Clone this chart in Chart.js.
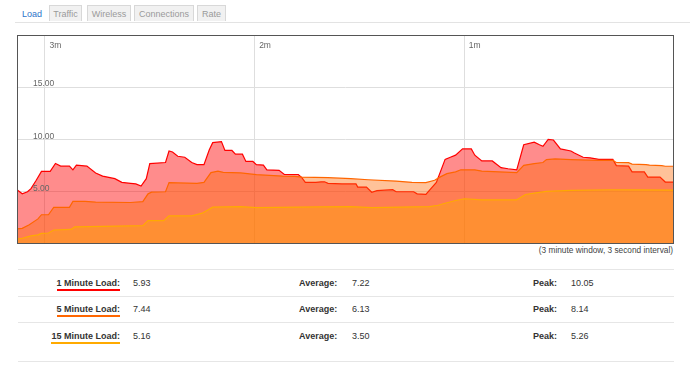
<!DOCTYPE html>
<html>
<head>
<meta charset="utf-8">
<script src="https://cdn.jsdelivr.net/npm/chart.js@4.4.0/dist/chart.umd.min.js"></script>
<style>
  body { margin: 0; background: #fff; font-family: "Liberation Sans", Arial, sans-serif; color: #333; }
  #page { position: relative; width: 690px; height: 370px; overflow: hidden; }
  .tab { position: absolute; top: 5px; height: 16px; line-height: 16px; font-size: 9px; text-align: center;
         background: #f1f1f1; border: 1px solid #d8d8d8; border-bottom: none; color: #9a9a9a; box-sizing: border-box; }
  .tab.active { background: #fff; border-color: #fff; color: #2d74c9; }
  #tabline { position: absolute; left: 15px; right: 0; top: 22px; height: 1px; background: #e3e3e3; }
  #chartbox { position: absolute; left: 17px; top: 35px; width: 657px; height: 209px; }
  #caption { position: absolute; right: 17px; top: 245px; font-size: 8.3px; color: #444; }
  .rule { position: absolute; left: 18px; width: 656px; height: 1px; background: #e6e6e6; }
  .cell { position: absolute; font-size: 9px; line-height: 11px; color: #333; white-space: nowrap; }
  .lbl { font-weight: bold; text-align: right; }
  .lbl span { border-bottom: 2px solid; padding-bottom: 1px; }
</style>
</head>
<body>
<div id="page">
  <div class="tab active" style="left:17px;width:30px">Load</div>
  <div class="tab" style="left:49px;width:33px">Traffic</div>
  <div class="tab" style="left:87px;width:44px">Wireless</div>
  <div class="tab" style="left:134px;width:60px">Connections</div>
  <div class="tab" style="left:197px;width:29px">Rate</div>
  <div id="tabline"></div>
  <div id="chartbox"><canvas id="loadChart" width="657" height="209"></canvas></div>
  <div id="caption">(3 minute window, 3 second interval)</div>
</div>
<script>
// seconds before now, and load values
const t1 = [-188,-186.5,-185,-184,-182.5,-181,-178.5,-177,-175.5,-173,-172,-171,-168,-165.5,-163.5,-160,-158,-155.5,-154,-152.5,
  -151,-150,-145.5,-144.5,-143.5,-142,-140,-138,-136.5,-134.5,-133,-132,-129.5,-128.5,-126.5,-125.5,-123.5,-122.5,-120.5,-119.5,
  -117.5,-116.5,-113,-111.5,-107.5,-106.5,-105.5,-102.5,-101,-100,-99,-95,-91,-90.5,-88,-86.5,-85,-80.5,-79.5,-74.5,
  -73.5,-71,-68,-65.5,-64,-62.5,-60.5,-58,-57,-55,-52,-49.5,-47.5,-45,-43,-40,-38.5,-37.5,-36,-34.5,
  -32.5,-29.5,-28.5,-26,-24,-21.5,-17.5,-16.5,-13,-12,-8.5,-7.5,-4,-2.5,0];
const load1 = [5.2,4.8,5.0,5.3,6.1,6.95,6.95,7.7,7.45,7.45,7.1,7.55,7.45,6.8,6.5,6.25,5.9,5.8,5.75,5.55,
  6.25,7.7,7.8,8.9,8.8,8.4,8.3,7.8,7.6,7.6,9.0,9.7,9.8,8.95,8.95,8.6,8.6,7.9,7.9,7.6,
  7.55,7.1,7.05,6.65,6.65,6.35,5.9,5.9,5.95,5.95,5.8,5.75,5.75,5.45,5.45,4.95,5.1,5.2,5.0,5.0,
  4.8,4.75,5.9,8.1,8.3,8.5,9.1,9.1,8.5,7.95,7.95,7.3,7.2,7.1,9.5,9.75,9.5,9.35,10.0,9.95,
  9.1,8.9,8.7,8.3,8.25,8.1,8.1,7.5,7.45,6.9,6.9,6.4,6.4,5.93,5.93];

const t5 = [-188,-186.5,-184.5,-182,-181,-179,-177.5,-173,-172,-168.5,-165.5,-155.5,-152,-150.5,-149.5,-145.5,-144.5,-136.5,-134.5,-132.5,
  -130.5,-129,-124,-119.5,-112,-108.5,-106.5,-99,-92.5,-87.5,-79.5,-75,-71,-68.5,-67,-65,-62.5,-61,-57,-55,
  -45,-43,-40,-37.5,-36.5,-34,-29.5,-21.5,-17.5,-16.5,-13,-12,-8,-7,-3.5,-2.5,0];
const load5 = [1.44,1.5,1.85,2.4,2.8,2.8,3.5,3.5,4.07,4.07,4.0,3.97,4.05,4.8,4.96,5.0,5.87,5.8,5.9,6.83,
  6.98,6.85,6.8,6.63,6.5,6.48,6.4,6.35,6.25,6.15,6.02,5.9,5.87,6.1,6.4,6.73,6.9,7.1,7.1,6.98,
  6.83,7.53,7.7,7.8,8.08,8.14,8.08,8.0,8.0,7.8,7.78,7.65,7.6,7.55,7.5,7.44,7.44];

const t15 = [-188,-186.5,-184,-182,-181,-179,-177.5,-172.5,-171.5,-155.5,-152,-150.5,-146,-144.5,-138,-135,-132,-124,-119.5,-101.5,
  -92.5,-86.5,-70,-67.5,-65.5,-62.5,-60,-55,-45,-42.5,-39.5,-36.5,-29.5,-18.5,-9.5,0];
const load15 = [0.48,0.55,0.77,0.87,1.02,1.05,1.34,1.4,1.63,1.73,1.75,2.24,2.24,2.69,2.7,2.95,3.52,3.58,3.49,3.55,
  3.58,3.49,3.58,3.71,3.9,4.16,4.33,4.23,4.23,4.74,4.9,5.03,5.13,5.19,5.18,5.16];

const yTicks = [5, 10, 15];
const yTickLabels = ['5.00', '10.00', '15.00'];
const xTicks = [-180, -120, -60];
const xTickLabels = ['3m', '2m', '1m'];

const rowLabels = ['1 Minute Load:', '5 Minute Load:', '15 Minute Load:'];
const rowCurrent = ['5.93', '7.44', '5.16'];
const rowAverage = ['7.22', '6.13', '3.50'];
const rowPeak = ['10.05', '8.14', '5.26'];
const rowColors = ['#ff0000', '#ff6600', '#ffaa00'];

function pts(t, v) { return t.map((x, i) => ({ x: x, y: v[i] })); }

// summary table below the graph
const page = document.getElementById('page');
[269, 296, 322, 361].forEach(y => {
  const r = document.createElement('div');
  r.className = 'rule'; r.style.top = y + 'px'; page.appendChild(r);
});
rowLabels.forEach((lab, i) => {
  const top = 278 + i * 26.3;
  const add = (html, left, width, cls) => {
    const d = document.createElement('div');
    d.className = 'cell ' + (cls || '');
    d.style.top = top + 'px'; d.style.left = left + 'px';
    if (width) d.style.width = width + 'px';
    d.innerHTML = html; page.appendChild(d);
  };
  add('<span style="border-color:' + rowColors[i] + '">' + lab + '</span>', 20, 100, 'lbl');
  add(rowCurrent[i], 133);
  add('<b>Average:</b>', 299);
  add(rowAverage[i], 352);
  add('<b>Peak:</b>', 533);
  add(rowPeak[i], 571);
});

const overlay = {
  id: 'overlay',
  afterDatasetsDraw(chart) {
    const ctx = chart.ctx, x = chart.scales.x, y = chart.scales.y, a = chart.chartArea;
    ctx.save();
    ctx.fillStyle = '#666';
    ctx.font = '8.5px "Liberation Sans", Arial, sans-serif';
    ctx.textBaseline = 'alphabetic';
    yTicks.forEach((v, i) => ctx.fillText(yTickLabels[i], a.left + 16, y.getPixelForValue(v) - 1));
    ctx.textBaseline = 'top';
    xTicks.forEach((v, i) => ctx.fillText(xTickLabels[i], x.getPixelForValue(v) + 4.5, a.top + 6));
    ctx.strokeStyle = '#555';
    ctx.lineWidth = 1;
    ctx.strokeRect(0.5, 0.5, chart.width - 1, chart.height - 1);
    ctx.restore();
  }
};

new Chart(document.getElementById('loadChart'), {
  type: 'line',
  data: {
    datasets: [
      { label: '1 Minute Load', data: pts(t1, load1), order: 3, borderColor: '#ff0000', borderWidth: 1.2,
        backgroundColor: 'rgba(255,0,0,0.45)', fill: 'origin' },
      { label: '5 Minute Load', data: pts(t5, load5), order: 2, borderColor: '#ff6600', borderWidth: 1.2,
        backgroundColor: 'rgba(255,102,0,0.4)', fill: 'origin' },
      { label: '15 Minute Load', data: pts(t15, load15), order: 1, borderColor: '#ffaa00', borderWidth: 1.2,
        backgroundColor: 'rgba(255,170,0,0.4)', fill: 'origin' }
    ]
  },
  options: {
    responsive: false,
    animation: false,
    layout: { padding: 0, autoPadding: false },
    elements: { point: { radius: 0 }, line: { tension: 0 } },
    plugins: { legend: { display: false }, tooltip: { enabled: false } },
    scales: {
      x: {
        type: 'linear', min: -188, max: 0,
        afterBuildTicks: s => { s.ticks = xTicks.map(v => ({ value: v })); },
        ticks: { display: false },
        grid: { color: '#dedede', drawTicks: false },
        border: { display: false }
      },
      y: {
        min: 0, max: 20,
        afterBuildTicks: s => { s.ticks = yTicks.map(v => ({ value: v })); },
        ticks: { display: false },
        grid: { color: '#dedede', drawTicks: false },
        border: { display: false }
      }
    }
  },
  plugins: [overlay]
});
</script>
</body>
</html>
